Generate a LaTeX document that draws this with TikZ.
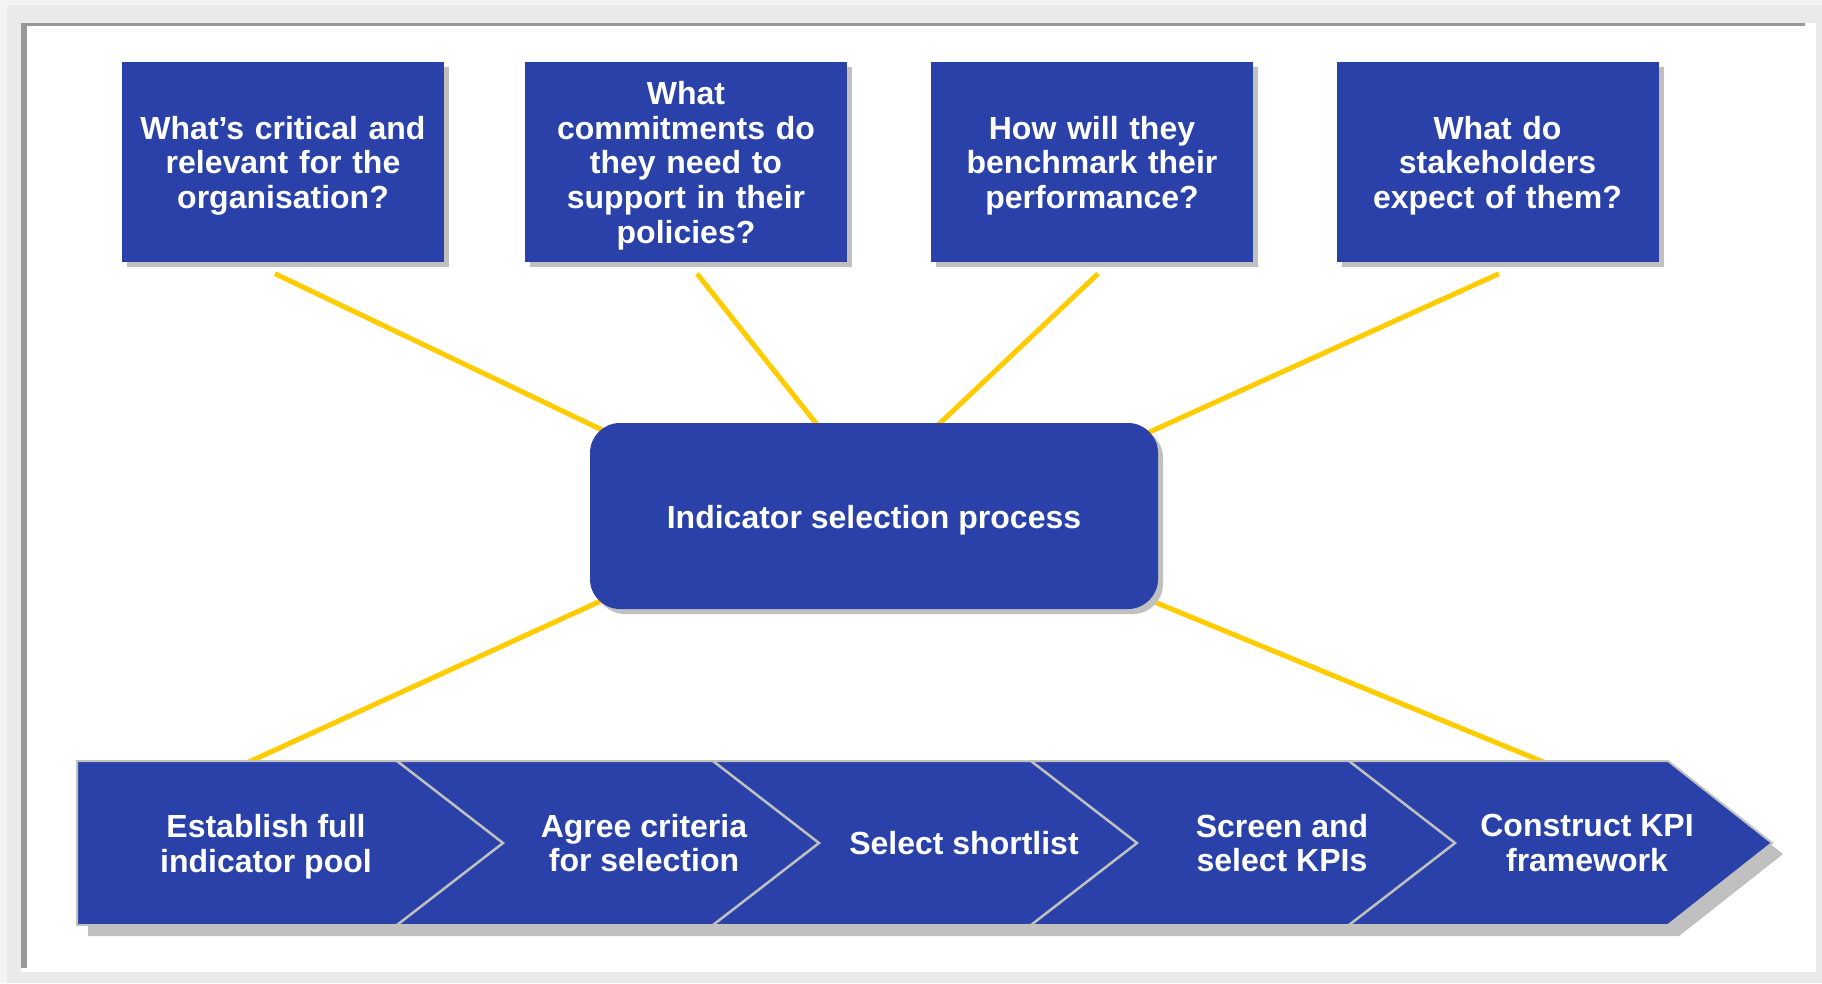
\documentclass[tikz,border=0pt]{standalone}
\usepackage{fontspec}
\setmainfont{Liberation Sans}
\usetikzlibrary{calc,shadows}
\pgfdeclarelayer{frame}
\pgfdeclarelayer{lines}
\pgfsetlayers{frame,lines,main}
\definecolor{kblue}{RGB}{41,65,168}
\definecolor{kyellow}{RGB}{255,204,0}
\definecolor{kshadow}{RGB}{192,192,192}
\definecolor{kframe}{RGB}{153,153,153}
\definecolor{kbg}{RGB}{234,234,234}
\definecolor{kbg2}{RGB}{244,244,244}
\newcommand\tfix{\rule{0pt}{31.5pt}}
\begin{document}
\begin{tikzpicture}[x=1pt,y=-1pt,
  txt/.style={text=white, font=\fontsize{32}{34.6}\selectfont\bfseries, align=center},
  qbox/.style={txt, fill=kblue, minimum width=322pt, minimum height=200pt, inner sep=0pt, text width=316pt,
    drop shadow={shadow xshift=5pt, shadow yshift=-5pt, fill=kshadow, opacity=1}},
  cbox/.style={txt, fill=kblue, rounded corners=30pt, minimum width=568pt, minimum height=186pt, inner sep=0pt,
    drop shadow={shadow xshift=5pt, shadow yshift=-5pt, fill=kshadow, opacity=1}},
  link/.style={draw=kyellow, line width=5pt},
  sep/.style={draw=kshadow, line width=2.5pt},
  steptext/.style={txt, inner sep=0pt}
]
\useasboundingbox (0,0) rectangle (1822,983);
\begin{pgfonlayer}{frame}
  \fill[kbg2] (0,0) rectangle (1822,983);
  \fill[kbg] (7,5) rectangle (1822,983);
  \fill[white] (21,23) rectangle (1816,972);
  \fill[kframe] (21,23) rectangle (1805,25.5);
  \fill[kframe] (21,23) rectangle (27,968);
\end{pgfonlayer}

% question boxes
\node[qbox] (q1) at (283,161.5) {\tfix What’s critical and\\relevant for the\\organisation?};
\node[qbox] (q2) at (686,161.5) {\tfix What\\commitments do\\they need to\\support in their\\policies?};
\node[qbox] (q3) at (1092,161.5) {\tfix How will they\\benchmark their\\performance?};
\node[qbox] (q4) at (1497.5,161.5) {\tfix What do\\stakeholders\\expect of them?};

% central box
\node[cbox] (c) at (874,516) {\tfix Indicator selection process};

% process bar
\fill[kshadow] (88,772) -- (1679,772) -- (1783,854) -- (1679,936) -- (88,936) -- cycle;
\draw[fill=kblue, draw=kshadow, line width=2pt] (77,761) -- (1668,761) -- (1772,843) -- (1668,925) -- (77,925) -- cycle;
\foreach \x in {397,713,1031,1349}
  \draw[sep] (\x,761) -- (\x+106,843) -- (\x,925);

\node[steptext] (s1) at (266,847) {Establish full\\indicator pool};
\node[steptext] (s2) at (644,843) {Agree criteria\\for selection};
\node[steptext] (s3) at (964,843) {Select shortlist};
\node[steptext] (s4) at (1282,843) {Screen and\\select KPIs};
\node[steptext] (s5) at (1587,843) {Construct KPI\\framework};

% connectors
\coordinate (b1) at (245.5,763.5);
\coordinate (b2) at (1547,763.5);
\begin{pgfonlayer}{lines}
  \draw[link] ($(q1.south)+(-8,12)$) -- ($(c.north west)+(12,7)$);
  \draw[link] ($(q2.south)+(11,12)$) -- ($(c.north west)+(233,9)$);
  \draw[link] ($(q3.south)+(6,12)$) -- ($(c.north west)+(341,9)$);
  \draw[link] ($(q4.south)+(1.5,12)$) -- ($(c.north east)+(-17,13)$);
  \draw[link] ($(c.south west)+(17,-11)$) -- (b1);
  \draw[link] ($(c.south east)+(-13,-11)$) -- (b2);
\end{pgfonlayer}
\end{tikzpicture}
\end{document}
